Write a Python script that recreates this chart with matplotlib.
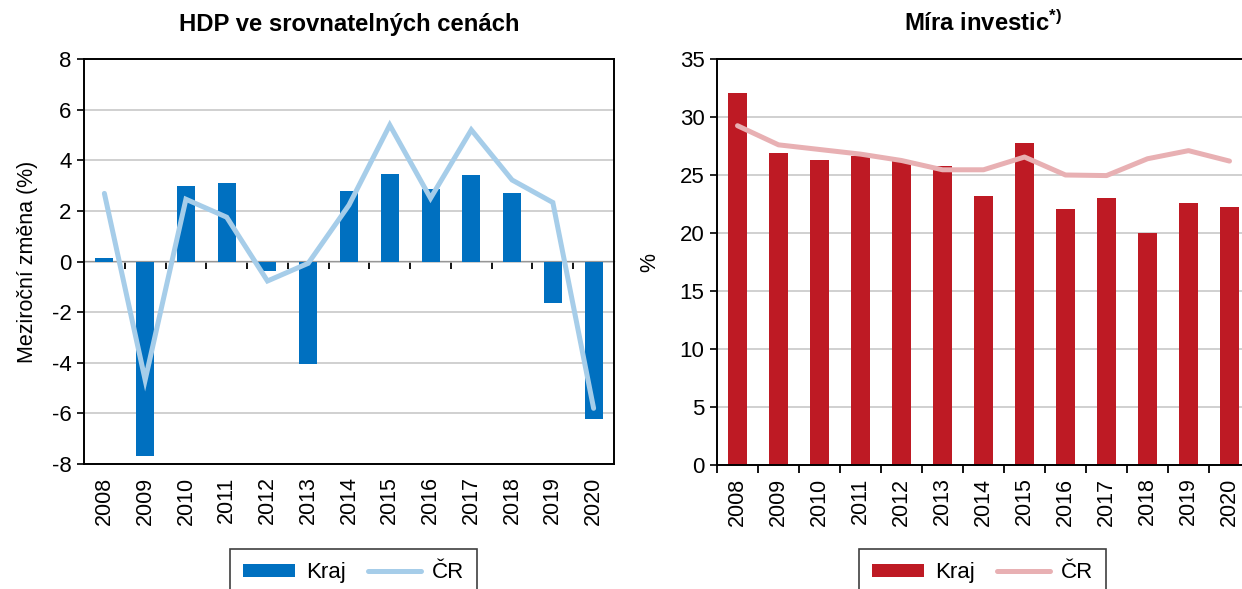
import numpy as np
import matplotlib.pyplot as plt

plt.rcParams['font.family'] = ['Liberation Sans', 'DejaVu Sans']
plt.rcParams['axes.unicode_minus'] = False
plt.rcParams['mathtext.fontset'] = 'custom'
plt.rcParams['mathtext.rm'] = 'Liberation Sans'
plt.rcParams['mathtext.bf'] = 'Liberation Sans:bold'
plt.rcParams['mathtext.default'] = 'bf'

years = ['2008', '2009', '2010', '2011', '2012', '2013', '2014',
         '2015', '2016', '2017', '2018', '2019', '2020']

# HDP ve srovnatelnych cenach, mezirocni zmena (%)
hdp_kraj = [0.15, -7.7, 2.98, 3.1, -0.38, -4.04, 2.8, 3.47, 2.88, 3.42, 2.69, -1.63, -6.23]
hdp_cr = [2.69, -4.68, 2.46, 1.75, -0.77, -0.07, 2.23, 5.39, 2.5, 5.2, 3.22, 2.33, -5.8]

# Mira investic (%)
inv_kraj = [32.1, 26.9, 26.3, 26.6, 26.3, 25.8, 23.15, 27.75, 22.1, 23.05, 20.0, 22.55, 22.2]
inv_cr = [29.25, 27.6, 27.2, 26.8, 26.25, 25.45, 25.45, 26.55, 25.0, 24.95, 26.4, 27.1, 26.2]

blue = '#0070C0'
light_blue = '#A6CDE9'
red = '#BE1A24'
pink = '#E8B0B3'
grid_col = '#C4C4C4'

W, H = 1242, 589
fig = plt.figure(figsize=(W / 100, H / 100), dpi=100)

ax1 = fig.add_axes([84 / W, 1 - 464 / H, (614 - 84) / W, (464 - 59) / H])
ax2 = fig.add_axes([717 / W, 1 - 465 / H, (1250 - 717) / W, (465 - 59) / H])

x = np.arange(len(years))


def style_axes(ax, ylim, yticks):
    ax.set_xlim(-0.5, len(years) - 0.5)
    ax.set_ylim(*ylim)
    ax.set_yticks(yticks)
    ax.yaxis.grid(True, color=grid_col, lw=1.1)
    ax.set_axisbelow(True)
    for s in ax.spines.values():
        s.set_linewidth(1.4)
        s.set_color('black')
    ax.tick_params(axis='y', direction='out', length=5, width=1.2,
                   labelsize=16, pad=4)
    ax.set_xticks(x)
    ax.set_xticklabels(years, rotation=90, fontsize=15.5)
    ax.tick_params(axis='x', length=0, pad=9)


# levy graf
ax1.bar(x, hdp_kraj, width=0.44, color=blue, label='Kraj', zorder=2)
ax1.plot(x, hdp_cr, color=light_blue, lw=3.6, label='ČR', zorder=3,
         solid_capstyle='round', solid_joinstyle='miter')
style_axes(ax1, (-8, 8), np.arange(-8, 9, 2))
sec = ax1.secondary_xaxis(0.5)
sec.set_xticks(x[:-1] + 0.5)
sec.set_xticklabels([])
sec.tick_params(direction='in', length=6, width=1.3)
sec.spines['bottom'].set_linewidth(1.6)
ax1.set_ylabel('Meziroční změna (%)', fontsize=15.5, labelpad=10)
ax1.set_title('HDP ve srovnatelných cenách', fontsize=17.2, fontweight='bold', pad=20)

# pravy graf
ax2.bar(x, inv_kraj, width=0.44, color=red, label='Kraj', zorder=2)
ax2.plot(x, inv_cr, color=pink, lw=3.6, label='ČR', zorder=3,
         solid_capstyle='round')
style_axes(ax2, (0, 35), np.arange(0, 36, 5))
ax2.set_xticks(np.arange(-0.5, len(years), 1.0), minor=True)
ax2.tick_params(axis='x', which='minor', direction='out', length=6, width=1.3)
ax2.set_ylabel('%', fontsize=15.5, labelpad=14)
ax2.set_title('Míra investic$^{*)}$', fontsize=17.2, fontweight='bold', pad=20)

for ax, cx in [(ax1, 353.5 / W), (ax2, 982.5 / W)]:
    h, l = ax.get_legend_handles_labels()
    order = [l.index('Kraj'), l.index('ČR')]
    leg = fig.legend([h[i] for i in order], [l[i] for i in order],
                     loc='upper center', bbox_to_anchor=(cx, 1 - 549 / H),
                     ncol=2, fontsize=16, frameon=True, fancybox=False,
                     framealpha=1, edgecolor='#404040', borderpad=0.6,
                     handlelength=2.35, handleheight=0.5, handletextpad=0.5,
                     columnspacing=1.0, borderaxespad=0)
    leg.get_frame().set_linewidth(1.2)

fig.savefig('out.png', dpi=100)
